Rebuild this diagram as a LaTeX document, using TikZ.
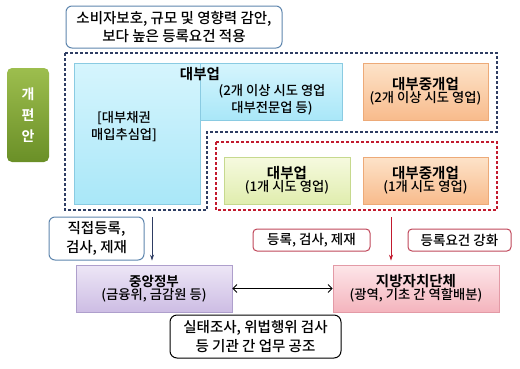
\documentclass[tikz,border=0pt]{standalone}
\usepackage{fontspec}
\setmainfont{Noto Sans CJK KR Medium}[BoldFont={Noto Sans CJK KR Bold}]
\usepackage{xcolor}
\usetikzlibrary{arrows.meta}
\definecolor{navy}{HTML}{2E3D63}
\definecolor{dashred}{HTML}{C21A2E}
\definecolor{noteblue}{HTML}{5F86AE}
\definecolor{notered}{HTML}{C0475A}
\definecolor{cyantop}{HTML}{D6F5FD}
\definecolor{cyanbot}{HTML}{A9E7F8}
\definecolor{cyanline}{HTML}{8ACBE2}
\definecolor{orgtop}{HTML}{FDE3C9}
\definecolor{orgbot}{HTML}{F8BB8C}
\definecolor{orgline}{HTML}{EDAA78}
\definecolor{grntop}{HTML}{F6FADF}
\definecolor{grnbot}{HTML}{E0EDAE}
\definecolor{grnline}{HTML}{C6D98E}
\definecolor{purtop}{HTML}{EDE6F6}
\definecolor{purbot}{HTML}{CDBDE4}
\definecolor{purline}{HTML}{AE9FCC}
\definecolor{pnktop}{HTML}{FDE6E9}
\definecolor{pnkbot}{HTML}{F4B4BD}
\definecolor{pnkline}{HTML}{E39AA6}
\definecolor{tagtop}{HTML}{9DBE4E}
\definecolor{tagbot}{HTML}{6A8F27}

\begin{document}
\begin{tikzpicture}[x=1pt, y=-1pt,
  note/.style={draw=noteblue, line width=1pt, fill=white, rounded corners=6pt, inner sep=0pt, align=center},
  rnote/.style={note, draw=notered, rounded corners=4pt},
  sect/.style={inner sep=0pt, align=center, line width=0.6pt},
  cyanbox/.style={sect, draw=cyanline, top color=cyantop, bottom color=cyanbot},
  orgbox/.style={sect, draw=orgline, top color=orgtop, bottom color=orgbot},
  grnbox/.style={sect, draw=grnline, top color=grntop, bottom color=grnbot},
  purbox/.style={sect, draw=purline, top color=purtop, bottom color=purbot},
  pnkbox/.style={sect, draw=pnkline, top color=pnktop, bottom color=pnkbot},
  head/.style={font=\fontsize{14.5}{18}\selectfont\bfseries},
  sub/.style={align=center, font=\fontsize{13.3}{17}\selectfont},
  region/.style={dash pattern=on 3pt off 2pt, line width=1.2pt},
  arr/.style={-{Stealth[length=6pt, width=4pt]}, line width=0.8pt},
]
  \useasboundingbox (0,0) rectangle (520,368);

  % top remark
  \node[note, minimum width=216, minimum height=42, font=\fontsize{14.5}{18}\selectfont] (goal) at (174,27)
    {소비자보호, 규모 및 영향력 감안,\\보다 높은 등록요건 적용};

  % side tag
  \node[rounded corners=5pt, top color=tagtop, bottom color=tagbot, minimum width=42, minimum height=94,
    inner sep=0pt, text=white, align=center, font=\fontsize{14}{21}\selectfont\bfseries] (tag) at (28,115)
    {개\\편\\안};

  % dashed regions
  \draw[region, navy] (65,53) -- (497,53) -- (497,132) -- (207,132) -- (207,210) -- (65,210) -- cycle;
  \draw[region, dashred] (216,142) rectangle (497,210);

  % registered with central government
  \node[cyanbox, minimum width=126, minimum height=141] (lcol) at (137,133.5) {};
  \node[cyanbox, minimum width=142, minimum height=57] (rcol) at (271,91.5) {};
  \node[head] (biz) at (200,74) {대부업};
  \node[sub] (ltxt) at (124,127) {[대부채권\\매입추심업]};
  \node[sub] (rtxt) at (272,100) {(2개 이상 시도 영업\\대부전문업 등)};
  \node[orgbox, minimum width=125, minimum height=57] (brk2) at (425.5,91.5)
    {\textbf{\fontsize{14.5}{18}\selectfont 대부중개업}\\\fontsize{13.3}{18}\selectfont(2개 이상 시도 영업)};

  % registered with local government
  \node[grnbox, minimum width=126, minimum height=47] (biz1) at (287,180.5)
    {\textbf{\fontsize{14.5}{18}\selectfont 대부업}\\\fontsize{13.3}{18}\selectfont(1개 시도 영업)};
  \node[orgbox, minimum width=125, minimum height=47] (brk1) at (425.5,180.5)
    {\textbf{\fontsize{14.5}{18}\selectfont 대부중개업}\\\fontsize{13.3}{18}\selectfont(1개 시도 영업)};

  % authorities
  \node[purbox, minimum width=156, minimum height=47] (cgov) at (154,288.5)
    {\textbf{\fontsize{13.5}{18}\selectfont 중앙정부}\\\fontsize{13.3}{18}\selectfont(금융위, 금감원 등)};
  \node[pnkbox, minimum width=166, minimum height=47] (lgov) at (416,288.5)
    {\textbf{\fontsize{14.5}{18}\selectfont 지방자치단체}\\\fontsize{13.3}{18}\selectfont(광역, 기초 간 역할배분)};

  \node[note, minimum width=95, minimum height=43, font=\fontsize{14.5}{19}\selectfont] (cnote) at (96.5,238.5)
    {직접등록,\\검사, 제재};
  \node[rnote, minimum width=117, minimum height=22, font=\fontsize{13.5}{16}\selectfont] (lnote) at (311.5,240)
    {등록, 검사, 제재};
  \node[rnote, minimum width=103, minimum height=22, font=\fontsize{13.5}{16}\selectfont] (rnote) at (459.5,240)
    {등록요건 강화};
  \node[note, draw=black, rounded corners=7pt, minimum width=171, minimum height=43, font=\fontsize{14.5}{19}\selectfont] (coop) at (255.5,336.5)
    {실태조사, 위법행위 검사\\등 기관 간 업무 공조};

  % connectors
  \coordinate (cfrom) at (152,217);
  \coordinate (lfrom) at (391,217);
  \draw[arr, navy, shorten >=4pt] (cfrom) -- (cfrom |- cgov.north);
  \draw[arr, dashred, shorten >=4pt] (lfrom) -- (lfrom |- lgov.north);
  \draw[{Straight Barb[length=4pt]}-{Straight Barb[length=4pt]}, line width=0.9pt] (cgov.east) -- (lgov.west);
\end{tikzpicture}
\end{document}
